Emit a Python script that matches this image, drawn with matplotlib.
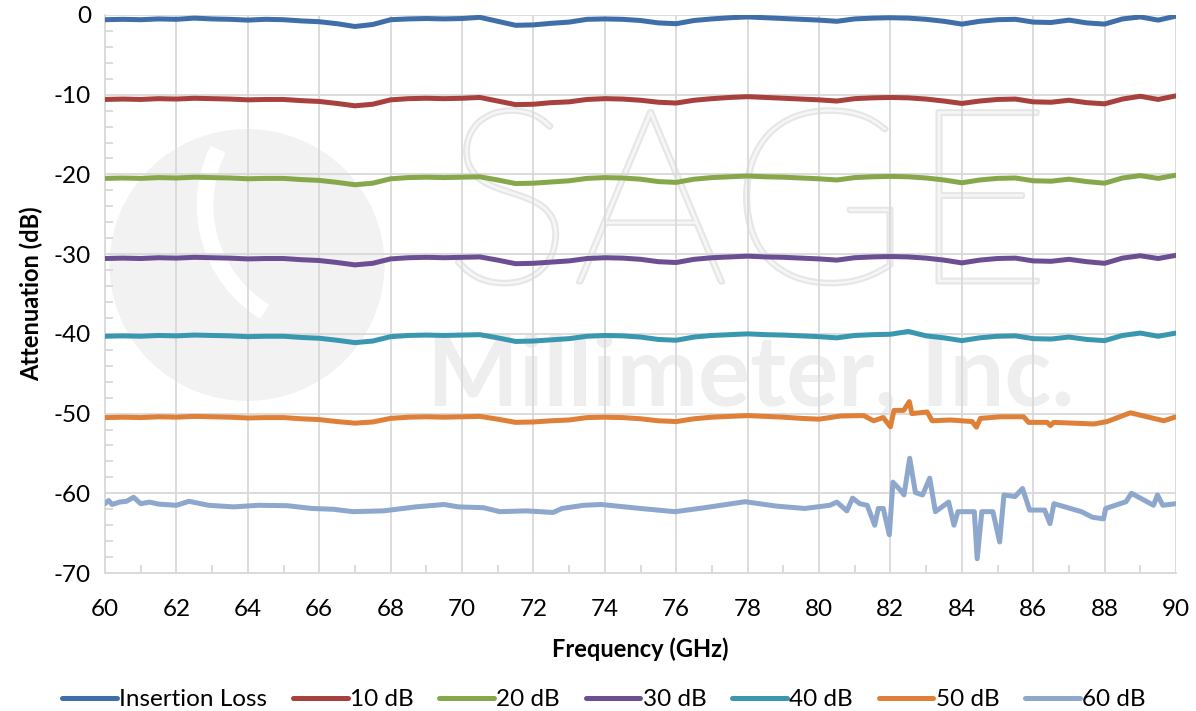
import numpy as np
import matplotlib.pyplot as plt
from matplotlib.patches import Ellipse, Arc
import matplotlib.patheffects as pe

plt.rcParams['font.family'] = ['Lato', 'DejaVu Sans']
plt.rcParams['axes.unicode_minus'] = False

# frequency grid (GHz) for the smooth traces
freq = [60.0, 60.5, 61.0, 61.5, 62.0, 62.5, 63.0, 63.5, 64.0, 64.5,
        65.0, 65.5, 66.0, 66.5, 67.0, 67.5, 68.0, 68.5, 69.0, 69.5,
        70.0, 70.5, 71.0, 71.5, 72.0, 72.5, 73.0, 73.5, 74.0, 74.5,
        75.0, 75.5, 76.0, 76.5, 77.0, 77.5, 78.0, 78.5, 79.0, 79.5,
        80.0, 80.5, 81.0, 81.5, 82.0, 82.5, 83.0, 83.5, 84.0, 84.5,
        85.0, 85.5, 86.0, 86.5, 87.0, 87.5, 88.0, 88.5, 89.0, 89.5, 90.0]

insertion_loss = [-0.6, -0.55, -0.6, -0.5, -0.55, -0.4, -0.5, -0.55, -0.65, -0.55,
                  -0.6, -0.75, -0.85, -1.1, -1.45, -1.2, -0.6, -0.5, -0.45, -0.5,
                  -0.45, -0.3, -0.8, -1.3, -1.25, -1.05, -0.9, -0.55, -0.5, -0.55,
                  -0.7, -1.0, -1.1, -0.7, -0.5, -0.35, -0.25, -0.35, -0.45, -0.55,
                  -0.65, -0.8, -0.5, -0.4, -0.35, -0.4, -0.55, -0.8, -1.15, -0.8,
                  -0.6, -0.55, -0.9, -0.95, -0.65, -1.0, -1.15, -0.5, -0.25, -0.65, -0.15]

att_10 = [-10.6, -10.55, -10.6, -10.5, -10.55, -10.45, -10.5, -10.55, -10.65, -10.6,
          -10.6, -10.75, -10.85, -11.1, -11.4, -11.2, -10.65, -10.5, -10.45, -10.5,
          -10.45, -10.35, -10.8, -11.25, -11.2, -11.0, -10.9, -10.6, -10.5, -10.55,
          -10.7, -10.95, -11.05, -10.7, -10.5, -10.35, -10.25, -10.35, -10.45, -10.55,
          -10.65, -10.8, -10.5, -10.4, -10.35, -10.4, -10.55, -10.8, -11.1, -10.8,
          -10.6, -10.55, -10.9, -10.95, -10.7, -11.0, -11.15, -10.55, -10.2, -10.6, -10.15]

att_20 = [-20.5, -20.45, -20.5, -20.4, -20.45, -20.35, -20.4, -20.45, -20.55, -20.5,
          -20.5, -20.65, -20.75, -21.0, -21.3, -21.1, -20.55, -20.4, -20.35, -20.4,
          -20.35, -20.3, -20.7, -21.15, -21.1, -20.95, -20.8, -20.5, -20.4, -20.45,
          -20.6, -20.9, -21.0, -20.6, -20.4, -20.3, -20.2, -20.3, -20.35, -20.45,
          -20.55, -20.7, -20.4, -20.3, -20.25, -20.3, -20.45, -20.7, -21.05, -20.7,
          -20.5, -20.45, -20.8, -20.85, -20.6, -20.9, -21.1, -20.45, -20.15, -20.5, -20.1]

att_30 = [-30.55, -30.5, -30.55, -30.45, -30.5, -30.4, -30.45, -30.5, -30.6, -30.55,
          -30.55, -30.7, -30.8, -31.05, -31.35, -31.15, -30.6, -30.45, -30.4, -30.45,
          -30.4, -30.35, -30.75, -31.2, -31.15, -31.0, -30.85, -30.55, -30.45, -30.5,
          -30.65, -30.95, -31.05, -30.65, -30.45, -30.35, -30.25, -30.35, -30.4, -30.5,
          -30.6, -30.75, -30.45, -30.35, -30.3, -30.35, -30.5, -30.75, -31.1, -30.75,
          -30.55, -30.5, -30.85, -30.9, -30.65, -30.95, -31.15, -30.5, -30.2, -30.55, -30.15]

att_40 = [-40.3, -40.25, -40.3, -40.2, -40.25, -40.15, -40.2, -40.25, -40.35, -40.3,
          -40.3, -40.45, -40.55, -40.8, -41.1, -40.9, -40.35, -40.2, -40.15, -40.2,
          -40.15, -40.1, -40.5, -40.95, -40.9, -40.75, -40.6, -40.3, -40.2, -40.25,
          -40.4, -40.7, -40.8, -40.4, -40.2, -40.1, -40.0, -40.1, -40.15, -40.25,
          -40.35, -40.5, -40.2, -40.1, -40.05, -39.7, -40.25, -40.5, -40.85, -40.5,
          -40.3, -40.25, -40.6, -40.65, -40.4, -40.7, -40.85, -40.2, -39.9, -40.3, -39.9]

# 50 dB trace, finer sampling where it gets spiky
freq_50 = [60.0, 60.5, 61.0, 61.5, 62.0, 62.5, 63.0, 63.5, 64.0, 64.5,
           65.0, 65.5, 66.0, 66.5, 67.0, 67.5, 68.0, 68.5, 69.0, 69.5,
           70.0, 70.5, 71.0, 71.5, 72.0, 72.5, 73.0, 73.5, 74.0, 74.5,
           75.0, 75.5, 76.0, 76.5, 77.0, 77.5, 78.0, 78.5, 79.0, 79.5,
           80.0, 80.6, 81.25, 81.53, 81.8, 82.0, 82.1, 82.37, 82.53, 82.6,
           83.03, 83.17, 83.68, 84.29, 84.41, 84.52, 85.08, 85.73, 85.87, 86.39,
           86.48, 86.57, 87.7, 88.07, 88.72, 89.47, 89.66, 90.0]
att_50 = [-50.5, -50.45, -50.5, -50.4, -50.45, -50.35, -50.4, -50.45, -50.55, -50.5,
          -50.5, -50.65, -50.75, -51.0, -51.2, -51.05, -50.6, -50.45, -50.4, -50.45,
          -50.4, -50.35, -50.7, -51.1, -51.05, -50.9, -50.8, -50.5, -50.45, -50.5,
          -50.65, -50.9, -51.0, -50.65, -50.45, -50.35, -50.25, -50.35, -50.45, -50.6,
          -50.7, -50.3, -50.25, -50.9, -50.5, -51.65, -49.6, -49.6, -48.5, -50.0,
          -49.8, -50.9, -50.8, -51.0, -51.7, -50.6, -50.4, -50.4, -51.1, -51.1,
          -51.5, -51.1, -51.3, -51.0, -49.9, -50.7, -50.9, -50.4]

# 60 dB trace
freq_60 = [60.0, 60.1, 60.2, 60.4, 60.6, 60.8, 61.0, 61.25, 61.5, 62.0,
           62.35, 62.9, 63.6, 64.3, 65.1, 65.8, 66.4, 66.95, 67.8, 68.7,
           69.5, 69.9, 70.6, 71.06, 71.8, 72.55, 72.8, 73.4, 73.9, 75.0,
           75.97, 76.8, 77.93, 78.8, 79.6, 80.3, 80.5, 80.78, 80.94, 81.14,
           81.35, 81.56, 81.66, 81.8, 81.97, 82.07, 82.28, 82.38, 82.54, 82.7,
           82.9, 83.1, 83.26, 83.63, 83.78, 83.89, 84.35, 84.43, 84.56, 84.87,
           85.06, 85.18, 85.49, 85.7, 85.9, 86.32, 86.47, 86.58, 87.35, 87.66,
           87.97, 88.03, 88.6, 88.75, 89.0, 89.37, 89.48, 89.63, 90.0]
att_60 = [-61.3, -60.9, -61.4, -61.1, -61.0, -60.5, -61.3, -61.1, -61.35, -61.5,
          -61.0, -61.5, -61.7, -61.5, -61.55, -61.9, -62.0, -62.3, -62.2, -61.7,
          -61.4, -61.7, -61.8, -62.3, -62.2, -62.4, -61.9, -61.5, -61.4, -61.9,
          -62.3, -61.8, -61.05, -61.6, -61.9, -61.5, -61.1, -62.2, -60.6, -61.3,
          -61.5, -64.0, -61.9, -61.9, -65.2, -58.6, -59.6, -60.2, -55.6, -59.9,
          -60.2, -58.1, -62.3, -61.1, -64.0, -62.3, -62.3, -68.2, -62.3, -62.3,
          -66.1, -60.2, -60.4, -59.4, -62.1, -62.1, -63.8, -61.3, -62.3, -63.0,
          -63.2, -61.9, -61.05, -60.0, -60.6, -61.5, -60.2, -61.5, -61.3]

labels = ['Insertion Loss', '10 dB', '20 dB', '30 dB', '40 dB', '50 dB', '60 dB']
colors = ['#3F6EA8', '#A8403D', '#86A84A', '#6C4F92', '#3A97B0', '#DF8038', '#8DA7CD']

fig = plt.figure(figsize=(11.96, 7.11), dpi=100)
ax = fig.add_axes([0.0878, 0.194, 0.8955, 0.785])

# faint company watermark behind the data
ax.add_patch(Ellipse((247 / 1196, 1 - 265 / 711), 275 / 1196, 272 / 711,
                     transform=fig.transFigure, facecolor='#f2f2f2',
                     edgecolor='none', zorder=0, clip_on=False))
ax.add_patch(Arc((330 / 1196, 1 - 205 / 711), 250 / 1196, 250 / 711,
                 theta1=140, theta2=250, transform=fig.transFigure,
                 color='white', lw=12, zorder=0.1, clip_on=False))
ax.text(0.6, 0.64, 'SAGE', transform=ax.transAxes, ha='center', va='center',
        fontsize=176, fontweight='light', color='#f6f6f6', zorder=0,
        path_effects=[pe.Stroke(linewidth=3, foreground='#e6e6e6'), pe.Normal()])
ax.text(0.603, 0.35, 'Millimeter, Inc.', transform=ax.transAxes, ha='center',
        va='center', fontsize=70, fontweight='bold', color='#eeeeee', zorder=0)

series = [(freq, insertion_loss), (freq, att_10), (freq, att_20), (freq, att_30),
          (freq, att_40), (freq_50, att_50), (freq_60, att_60)]
for (x, y), lab, c in zip(series, labels, colors):
    ax.plot(x, y, color=c, lw=3.6, label=lab, solid_capstyle='round', zorder=3)

ax.set_xlim(60, 90)
ax.set_ylim(-70, 0)
ax.set_xticks(np.arange(60, 91, 2))
ax.set_xticks(np.arange(61, 90, 2), minor=True)
ax.set_yticks(np.arange(-70, 1, 10))
ax.set_yticks(np.arange(-68, 0, 2), minor=True)
ax.grid(True, which='major', color='#d9d9d9', lw=1.3, zorder=1)
ax.set_axisbelow(True)
for s in ['top', 'right']:
    ax.spines[s].set_visible(False)
for s in ['left', 'bottom']:
    ax.spines[s].set_color('#d9d9d9')
    ax.spines[s].set_linewidth(1.3)
ax.tick_params(which='major', length=0, labelsize=17.5, pad=10)
ax.tick_params(axis='x', which='major', pad=19)
ax.tick_params(which='minor', direction='in', length=6, width=1.3, color='#d9d9d9')

ax.set_xlabel('Frequency (GHz)', fontsize=17, fontweight='bold', labelpad=12)
ax.set_ylabel('Attenuation (dB)', fontsize=17, fontweight='bold', labelpad=8)

fig.legend(loc='lower center', bbox_to_anchor=(0.505, -0.03), ncol=7, frameon=False,
           fontsize=17.5, handlelength=2.25, handletextpad=0.1, columnspacing=1.05)

fig.savefig('out.png', dpi=100)
